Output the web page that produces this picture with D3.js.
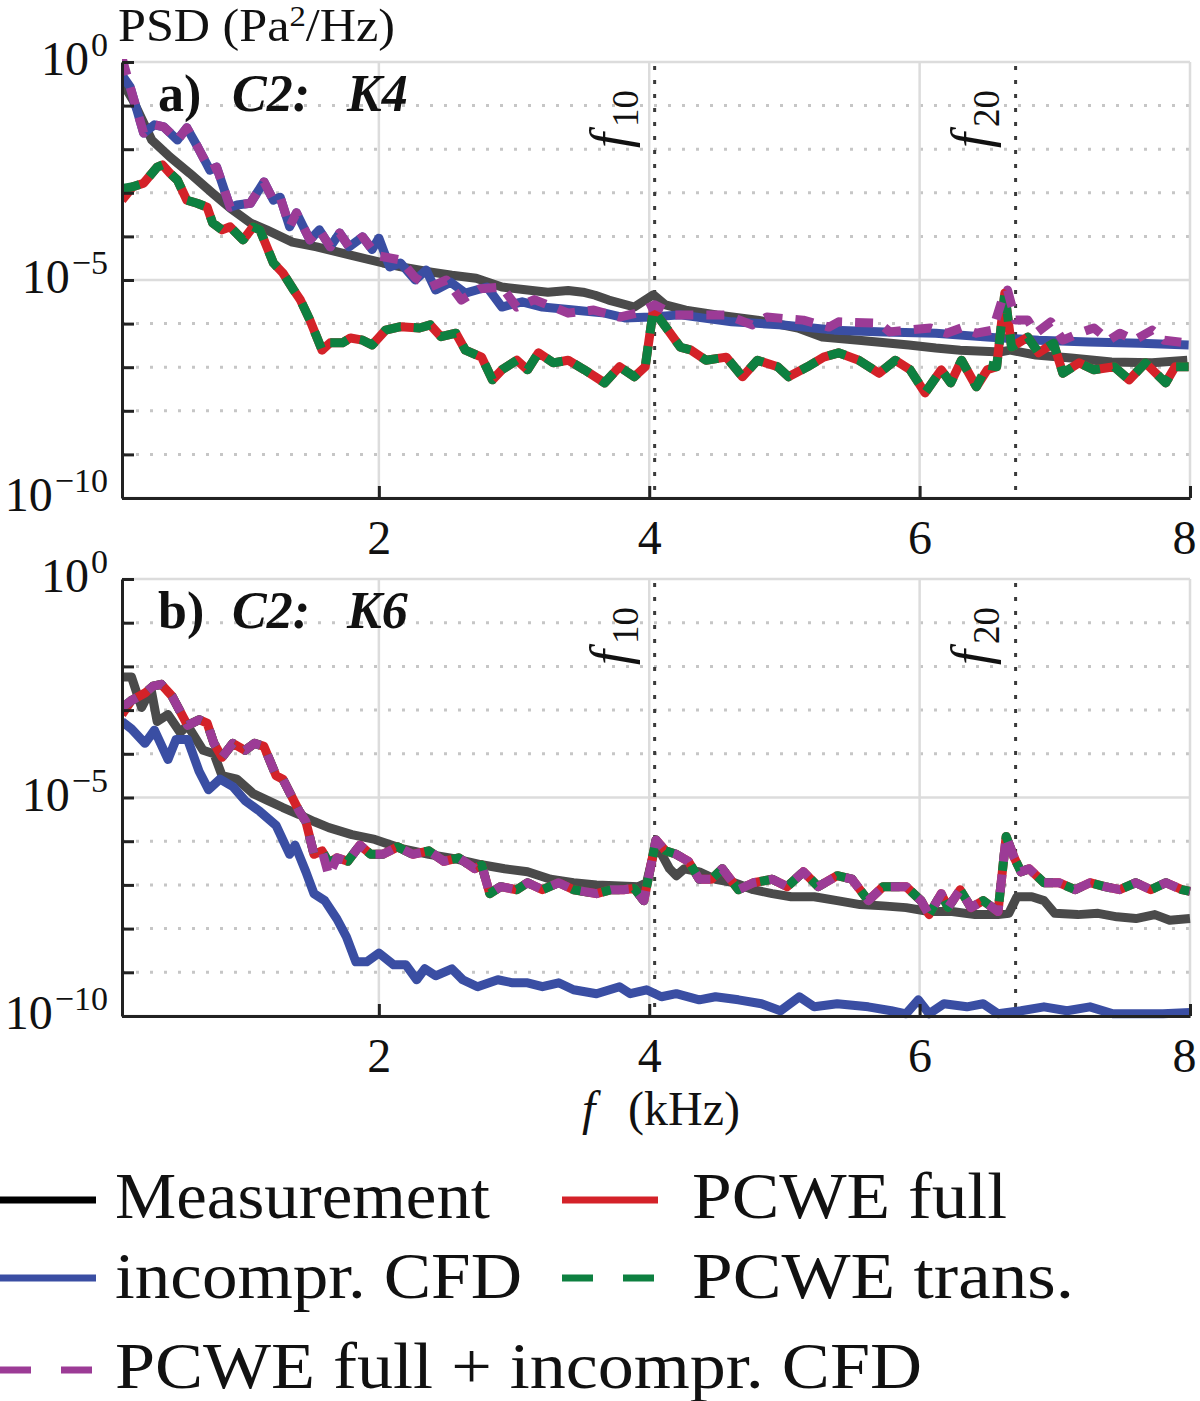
<!DOCTYPE html>
<html>
<head>
<meta charset="utf-8">
<script src="https://cdn.jsdelivr.net/npm/d3@7"></script>
<style>
  body { margin: 0; background: #fff; }
  svg { display: block; }
  text { font-family: "Liberation Serif", "Times New Roman", serif; fill: #111; }
</style>
</head>
<body>
<svg id="chart" width="1200" height="1401"></svg>
<script>
// Values are [frequency in kHz, log10(PSD in Pa^2/Hz)].

// panel a) C2: K4
const measA = [[0.10,-0.46],[0.18,-0.87],[0.32,-1.79],[0.455,-2.18],[0.60,-2.55],[0.77,-3.01],[0.90,-3.35],[1.05,-3.69],[1.17,-3.85],[1.36,-4.13],[1.54,-4.24],[1.79,-4.43],[2.03,-4.61],[2.20,-4.72],[2.39,-4.82],[2.54,-4.89],[2.72,-4.96],[2.91,-5.16],[3.10,-5.23],[3.25,-5.28],[3.40,-5.24],[3.51,-5.28],[3.60,-5.35],[3.70,-5.46],[3.89,-5.62],[4.03,-5.34],[4.12,-5.57],[4.27,-5.69],[4.50,-5.80],[4.80,-5.92],[5.10,-6.10],[5.28,-6.31],[5.55,-6.38],[5.92,-6.49],[6.12,-6.56],[6.30,-6.61],[6.60,-6.65],[6.67,-6.61],[6.86,-6.72],[7.12,-6.79],[7.42,-6.88],[7.72,-6.90],[7.98,-6.84]];

const cfdA = [[0.10,-0.30],[0.16,-0.57],[0.26,-1.63],[0.34,-1.44],[0.41,-1.49],[0.51,-1.79],[0.58,-1.51],[0.66,-1.95],[0.75,-2.48],[0.80,-2.41],[0.90,-3.33],[0.95,-3.28],[1.05,-3.24],[1.15,-2.75],[1.22,-3.17],[1.27,-3.10],[1.34,-3.78],[1.39,-3.46],[1.49,-4.08],[1.56,-3.85],[1.64,-4.24],[1.71,-3.92],[1.78,-4.24],[1.88,-4.01],[1.95,-4.30],[2.00,-4.04],[2.08,-4.70],[2.16,-4.61],[2.27,-5.00],[2.35,-4.77],[2.42,-5.23],[2.53,-5.05],[2.64,-5.30],[2.80,-5.16],[2.91,-5.62],[3.06,-5.50],[3.21,-5.62],[3.44,-5.69],[3.67,-5.76],[3.82,-5.87],[4.01,-5.85],[4.23,-5.80],[4.61,-5.96],[4.99,-6.03],[5.37,-6.15],[5.74,-6.19],[6.12,-6.22],[6.50,-6.31],[6.88,-6.38],[7.25,-6.42],[7.63,-6.45],[7.99,-6.49]];

const fullA = [[0.10,-3.17],[0.18,-2.86],[0.26,-2.78],[0.36,-2.41],[0.40,-2.36],[0.455,-2.55],[0.51,-2.71],[0.58,-3.17],[0.655,-3.24],[0.73,-3.33],[0.77,-3.69],[0.84,-3.85],[0.90,-3.78],[0.995,-4.08],[1.07,-3.78],[1.12,-3.85],[1.22,-4.61],[1.29,-4.84],[1.37,-5.23],[1.42,-5.46],[1.49,-5.92],[1.58,-6.61],[1.64,-6.44],[1.73,-6.44],[1.79,-6.33],[1.88,-6.38],[1.95,-6.49],[2.05,-6.15],[2.16,-6.07],[2.30,-6.10],[2.38,-6.03],[2.46,-6.30],[2.57,-6.22],[2.64,-6.61],[2.76,-6.77],[2.84,-7.29],[2.91,-7.06],[3.02,-6.84],[3.10,-7.06],[3.18,-6.67],[3.29,-6.90],[3.40,-6.84],[3.52,-7.06],[3.67,-7.36],[3.78,-6.99],[3.89,-7.22],[3.97,-6.99],[4.03,-5.69],[4.12,-6.07],[4.23,-6.54],[4.31,-6.61],[4.42,-6.84],[4.57,-6.77],[4.69,-7.22],[4.80,-6.84],[4.95,-6.99],[5.03,-7.22],[5.17,-6.99],[5.29,-6.77],[5.40,-6.67],[5.55,-6.84],[5.70,-7.14],[5.82,-6.84],[5.93,-7.06],[6.04,-7.59],[6.16,-7.06],[6.23,-7.36],[6.31,-6.84],[6.42,-7.45],[6.50,-7.06],[6.57,-6.99],[6.63,-5.30],[6.68,-6.54],[6.80,-6.31],[6.88,-6.67],[6.99,-6.45],[7.06,-7.14],[7.18,-6.90],[7.29,-7.06],[7.44,-6.99],[7.55,-7.29],[7.67,-6.90],[7.82,-7.36],[7.89,-6.99],[7.99,-6.99]];

const transA = [[0.10,-2.90],[0.18,-2.86],[0.26,-2.78],[0.36,-2.41],[0.40,-2.36],[0.455,-2.55],[0.51,-2.71],[0.58,-3.17],[0.655,-3.24],[0.73,-3.33],[0.77,-3.69],[0.84,-3.85],[0.90,-3.78],[0.995,-4.08],[1.07,-3.78],[1.12,-3.85],[1.22,-4.61],[1.29,-4.84],[1.37,-5.23],[1.42,-5.46],[1.49,-5.92],[1.58,-6.61],[1.64,-6.44],[1.73,-6.44],[1.79,-6.33],[1.88,-6.38],[1.95,-6.49],[2.05,-6.15],[2.16,-6.07],[2.30,-6.10],[2.38,-6.03],[2.46,-6.30],[2.57,-6.22],[2.64,-6.61],[2.76,-6.77],[2.84,-7.29],[2.91,-7.06],[3.02,-6.84],[3.10,-7.06],[3.18,-6.67],[3.29,-6.90],[3.40,-6.84],[3.52,-7.06],[3.67,-7.36],[3.78,-6.99],[3.89,-7.22],[3.97,-6.99],[4.03,-5.69],[4.12,-6.07],[4.23,-6.54],[4.31,-6.61],[4.42,-6.84],[4.57,-6.77],[4.69,-7.22],[4.80,-6.84],[4.95,-6.99],[5.03,-7.22],[5.17,-6.99],[5.29,-6.77],[5.40,-6.67],[5.55,-6.84],[5.70,-7.14],[5.82,-6.84],[5.93,-7.06],[6.04,-7.59],[6.16,-7.06],[6.23,-7.36],[6.31,-6.84],[6.42,-7.45],[6.50,-6.95],[6.57,-6.99],[6.63,-5.30],[6.68,-6.54],[6.80,-6.31],[6.88,-6.67],[6.99,-6.45],[7.06,-7.14],[7.18,-6.90],[7.29,-7.06],[7.44,-6.99],[7.55,-7.29],[7.67,-6.90],[7.82,-7.36],[7.89,-6.99],[7.99,-6.99]];

const comboA = [[0.10,0.10],[0.16,-0.57],[0.26,-1.63],[0.34,-1.44],[0.41,-1.49],[0.51,-1.79],[0.58,-1.51],[0.66,-1.95],[0.75,-2.48],[0.80,-2.41],[0.90,-3.33],[0.95,-3.28],[1.05,-3.24],[1.15,-2.75],[1.22,-3.17],[1.27,-3.10],[1.34,-3.78],[1.39,-3.46],[1.49,-4.08],[1.56,-3.85],[1.64,-4.24],[1.71,-3.92],[1.78,-4.24],[1.88,-4.01],[1.95,-4.30],[2.00,-4.45],[2.16,-4.54],[2.27,-4.95],[2.38,-5.16],[2.50,-5.00],[2.61,-5.46],[2.75,-5.20],[2.91,-5.16],[3.02,-5.62],[3.15,-5.45],[3.29,-5.62],[3.40,-5.76],[3.59,-5.69],[3.78,-5.85],[3.92,-5.75],[4.04,-5.57],[4.19,-5.80],[4.42,-5.80],[4.57,-5.80],[4.76,-6.03],[4.87,-5.85],[5.14,-5.92],[5.33,-6.08],[5.40,-5.96],[5.70,-5.99],[5.78,-6.19],[6.08,-6.10],[6.20,-6.22],[6.31,-6.10],[6.42,-6.22],[6.54,-6.15],[6.61,-5.46],[6.65,-5.23],[6.71,-5.92],[6.80,-5.92],[6.86,-6.22],[6.97,-5.96],[7.06,-6.38],[7.18,-6.22],[7.29,-6.10],[7.40,-6.38],[7.48,-6.22],[7.59,-6.38],[7.72,-6.15],[7.81,-6.38],[7.99,-6.45]];

// panel b) C2: K6
const measB = [[0.10,-2.24],[0.17,-2.24],[0.245,-2.94],[0.315,-2.52],[0.36,-3.26],[0.44,-3.10],[0.53,-3.51],[0.585,-3.35],[0.70,-3.92],[0.78,-4.00],[0.84,-4.50],[0.95,-4.58],[1.07,-4.91],[1.18,-5.07],[1.29,-5.23],[1.41,-5.39],[1.52,-5.55],[1.63,-5.69],[1.80,-5.85],[1.97,-5.96],[2.17,-6.17],[2.37,-6.30],[2.59,-6.42],[2.76,-6.54],[2.93,-6.63],[3.10,-6.70],[3.27,-6.87],[3.44,-6.95],[3.61,-7.00],[3.92,-7.04],[3.98,-6.95],[4.05,-6.06],[4.15,-6.63],[4.20,-6.79],[4.26,-6.63],[4.37,-6.70],[4.49,-6.87],[4.63,-6.95],[4.77,-7.11],[4.91,-7.20],[5.05,-7.27],[5.22,-7.27],[5.39,-7.36],[5.56,-7.45],[5.73,-7.48],[5.90,-7.52],[6.07,-7.61],[6.24,-7.61],[6.41,-7.68],[6.58,-7.68],[6.66,-7.65],[6.72,-7.27],[6.83,-7.27],[6.92,-7.36],[7.00,-7.65],[7.17,-7.68],[7.32,-7.65],[7.46,-7.73],[7.60,-7.77],[7.74,-7.68],[7.85,-7.81],[8.00,-7.77]];

const cfdB = [[0.10,-3.26],[0.17,-3.43],[0.27,-3.76],[0.34,-3.46],[0.44,-4.13],[0.50,-3.67],[0.585,-3.67],[0.67,-4.40],[0.74,-4.82],[0.825,-4.58],[0.92,-4.75],[1.01,-5.07],[1.12,-5.32],[1.24,-5.64],[1.34,-6.30],[1.38,-6.09],[1.46,-6.70],[1.52,-7.20],[1.60,-7.36],[1.69,-7.78],[1.76,-8.19],[1.83,-8.76],[1.91,-8.76],[2.00,-8.56],[2.11,-8.83],[2.20,-8.83],[2.28,-9.17],[2.34,-8.92],[2.42,-9.08],[2.54,-8.92],[2.62,-9.17],[2.73,-9.33],[2.88,-9.17],[2.99,-9.24],[3.10,-9.24],[3.21,-9.33],[3.33,-9.24],[3.44,-9.40],[3.61,-9.49],[3.78,-9.33],[3.86,-9.49],[3.98,-9.40],[4.09,-9.56],[4.20,-9.49],[4.37,-9.63],[4.49,-9.56],[4.66,-9.63],[4.83,-9.72],[4.97,-9.88],[5.11,-9.56],[5.22,-9.79],[5.39,-9.72],[5.62,-9.79],[5.79,-9.88],[5.90,-9.95],[5.99,-9.63],[6.07,-9.95],[6.18,-9.72],[6.35,-9.79],[6.47,-9.72],[6.58,-9.95],[6.75,-9.88],[6.92,-9.79],[7.09,-9.88],[7.26,-9.79],[7.43,-9.95],[7.60,-9.95],[7.80,-9.95],[8.00,-9.92]];

const fullB = [[0.10,-3.10],[0.17,-2.78],[0.27,-2.61],[0.33,-2.45],[0.39,-2.41],[0.47,-2.68],[0.53,-3.03],[0.585,-3.35],[0.67,-3.22],[0.73,-3.30],[0.78,-3.76],[0.84,-4.08],[0.92,-3.76],[1.01,-3.92],[1.08,-3.76],[1.15,-3.83],[1.24,-4.50],[1.29,-4.58],[1.41,-5.31],[1.46,-5.55],[1.52,-6.30],[1.58,-6.22],[1.63,-6.50],[1.69,-6.38],[1.77,-6.46],[1.86,-6.09],[1.94,-6.30],[2.03,-6.30],[2.14,-6.13],[2.25,-6.30],[2.37,-6.22],[2.48,-6.46],[2.59,-6.38],[2.71,-6.63],[2.76,-6.54],[2.82,-7.20],[2.90,-7.04],[3.02,-7.11],[3.10,-6.95],[3.21,-7.11],[3.33,-6.95],[3.44,-7.11],[3.61,-7.20],[3.72,-7.11],[3.81,-7.11],[3.89,-7.08],[3.96,-7.36],[4.05,-5.97],[4.12,-6.22],[4.20,-6.30],[4.29,-6.46],[4.37,-6.87],[4.46,-6.87],[4.54,-6.63],[4.66,-7.11],[4.77,-6.95],[4.91,-6.87],[5.02,-7.04],[5.14,-6.70],[5.25,-7.04],[5.39,-6.79],[5.50,-6.87],[5.62,-7.36],[5.73,-7.04],[5.90,-7.04],[6.01,-7.36],[6.07,-7.68],[6.16,-7.20],[6.21,-7.52],[6.30,-7.11],[6.38,-7.52],[6.47,-7.36],[6.58,-7.61],[6.64,-5.89],[6.70,-6.38],[6.75,-6.70],[6.81,-6.63],[6.92,-6.95],[7.03,-6.95],[7.15,-7.11],[7.26,-6.95],[7.37,-7.04],[7.48,-7.11],[7.60,-6.95],[7.71,-7.11],[7.82,-6.95],[7.94,-7.11],[8.00,-7.15]];

const transB = [[0.10,-2.94],[0.17,-2.78],[0.27,-2.61],[0.33,-2.45],[0.39,-2.41],[0.47,-2.68],[0.53,-3.03],[0.585,-3.35],[0.67,-3.22],[0.73,-3.30],[0.78,-3.76],[0.84,-4.08],[0.92,-3.76],[1.01,-3.92],[1.08,-3.76],[1.15,-3.83],[1.24,-4.50],[1.29,-4.58],[1.41,-5.31],[1.46,-5.55],[1.52,-6.30],[1.58,-6.22],[1.63,-6.50],[1.69,-6.38],[1.77,-6.46],[1.86,-6.09],[1.94,-6.30],[2.03,-6.30],[2.14,-6.13],[2.25,-6.30],[2.37,-6.22],[2.48,-6.46],[2.59,-6.38],[2.71,-6.63],[2.76,-6.54],[2.82,-7.20],[2.90,-7.04],[3.02,-7.11],[3.10,-6.95],[3.21,-7.11],[3.33,-6.95],[3.44,-7.11],[3.61,-7.20],[3.72,-7.11],[3.81,-7.11],[3.89,-7.08],[3.96,-7.36],[4.05,-5.97],[4.12,-6.22],[4.20,-6.30],[4.29,-6.46],[4.37,-6.87],[4.46,-6.87],[4.54,-6.63],[4.66,-7.11],[4.77,-6.95],[4.91,-6.87],[5.02,-7.04],[5.14,-6.70],[5.25,-7.04],[5.39,-6.79],[5.50,-6.87],[5.62,-7.36],[5.73,-7.04],[5.90,-7.04],[6.01,-7.36],[6.07,-7.68],[6.16,-7.20],[6.21,-7.52],[6.30,-7.11],[6.38,-7.52],[6.47,-7.36],[6.58,-7.61],[6.64,-5.89],[6.70,-6.38],[6.75,-6.70],[6.81,-6.63],[6.92,-6.95],[7.03,-6.95],[7.15,-7.11],[7.26,-6.95],[7.37,-7.04],[7.48,-7.11],[7.60,-6.95],[7.71,-7.11],[7.82,-6.95],[7.94,-7.11],[8.00,-7.15]];

const comboB = [[0.10,-2.94],[0.17,-2.78],[0.27,-2.61],[0.33,-2.45],[0.39,-2.41],[0.47,-2.68],[0.53,-3.03],[0.585,-3.35],[0.67,-3.22],[0.73,-3.30],[0.78,-3.76],[0.84,-4.08],[0.92,-3.76],[1.01,-3.92],[1.08,-3.76],[1.15,-3.83],[1.24,-4.50],[1.29,-4.58],[1.41,-5.31],[1.46,-5.55],[1.52,-6.30],[1.58,-6.22],[1.63,-6.79],[1.69,-6.38],[1.77,-6.46],[1.86,-6.09],[1.94,-6.30],[2.03,-6.30],[2.14,-6.13],[2.25,-6.30],[2.37,-6.22],[2.48,-6.46],[2.59,-6.38],[2.71,-6.63],[2.76,-6.54],[2.82,-7.20],[2.90,-7.04],[3.02,-7.11],[3.10,-6.95],[3.21,-7.11],[3.33,-6.95],[3.44,-7.11],[3.61,-7.20],[3.72,-7.11],[3.81,-7.11],[3.89,-7.08],[3.96,-7.36],[4.05,-5.97],[4.12,-6.22],[4.20,-6.30],[4.29,-6.46],[4.37,-6.87],[4.46,-6.87],[4.54,-6.63],[4.66,-7.11],[4.77,-6.95],[4.91,-6.87],[5.02,-7.04],[5.14,-6.70],[5.25,-7.04],[5.39,-6.79],[5.50,-6.87],[5.62,-7.36],[5.73,-7.04],[5.90,-7.04],[6.01,-7.36],[6.07,-7.68],[6.16,-7.20],[6.21,-7.52],[6.30,-7.11],[6.38,-7.52],[6.47,-7.36],[6.58,-7.61],[6.64,-5.89],[6.70,-6.38],[6.75,-6.70],[6.81,-6.63],[6.92,-6.95],[7.03,-6.95],[7.15,-7.11],[7.26,-6.95],[7.37,-7.04],[7.48,-7.11],[7.60,-6.95],[7.71,-7.11],[7.82,-6.95],[7.94,-7.11],[8.00,-7.15]];

const SERIES_NAMES = ["Measurement", "incompr. CFD", "PCWE full", "PCWE trans.", "PCWE full + incompr. CFD"];
const HARMONICS = [{f: 4.04, sub: "10"}, {f: 6.71, sub: "20"}];
const X_TICKS = [2, 4, 6, 8];
const DECADES = [1, 1e-1, 1e-2, 1e-3, 1e-4, 1e-5, 1e-6, 1e-7, 1e-8, 1e-9, 1e-10];
const MAJOR = [{v: 1, exp: "0"}, {v: 1e-5, exp: "\u22125"}, {v: 1e-10, exp: "\u221210"}];

const COLORS = ["#4a4a4a", "#3a4ea3", "#d42229", "#0d8040", "#9c3b96"];
const DASHED = [false, false, false, true, true];

const panels = [
  {top: 62, bottom: 498, tag: "a)", cfg: "C2:", mic: "K4", data: [measA, cfdA, fullA, transA, comboA]},
  {top: 579, bottom: 1016, tag: "b)", cfg: "C2:", mic: "K6", data: [measB, cfdB, fullB, transB, comboB]}
];

const LEFT = 122, RIGHT = 1190;
const svg = d3.select("#chart");
const defs = svg.append("defs");
const x = d3.scaleLinear().domain([0.1, 8]).range([LEFT, RIGHT]);

function drawPanel(p, i) {
  const y = d3.scaleLog().domain([1e-10, 1]).range([p.bottom, p.top]);
  const g = svg.append("g");

  defs.append("clipPath").attr("id", "clip" + i)
    .append("rect")
    .attr("x", LEFT).attr("y", p.top - 3)
    .attr("width", RIGHT - LEFT + 2).attr("height", p.bottom - p.top + 6);

  // minor grid (dotted)
  g.append("g").selectAll("line")
    .data(DECADES.filter((d) => !MAJOR.some((m) => m.v === d)))
    .join("line")
    .attr("x1", LEFT).attr("x2", RIGHT)
    .attr("y1", (d) => y(d)).attr("y2", (d) => y(d))
    .attr("stroke", "#c6c6c6").attr("stroke-width", 3)
    .attr("stroke-dasharray", "3,11");

  // major grid
  g.append("g").selectAll("line")
    .data(MAJOR)
    .join("line")
    .attr("x1", LEFT).attr("x2", RIGHT)
    .attr("y1", (d) => y(d.v)).attr("y2", (d) => y(d.v))
    .attr("stroke", "#dcdcdc").attr("stroke-width", 2.5);
  g.append("g").selectAll("line")
    .data(X_TICKS)
    .join("line")
    .attr("x1", (d) => x(d)).attr("x2", (d) => x(d))
    .attr("y1", p.top).attr("y2", p.bottom)
    .attr("stroke", "#dcdcdc").attr("stroke-width", 2.5);

  // harmonic markers
  g.append("g").selectAll("line")
    .data(HARMONICS)
    .join("line")
    .attr("x1", (d) => x(d.f)).attr("x2", (d) => x(d.f))
    .attr("y1", p.top + 4).attr("y2", p.bottom)
    .attr("stroke", "#3a3a3a").attr("stroke-width", 3)
    .attr("stroke-dasharray", "4,10");

  const hl = g.append("g").selectAll("text")
    .data(HARMONICS)
    .join("text")
    .attr("transform", (d) => `translate(${x(d.f) - 27},${p.top + 86}) rotate(-90)`);
  hl.append("tspan").attr("font-style", "italic").attr("font-size", 54).text("f");
  hl.append("tspan").attr("font-size", 37).attr("dx", 6).attr("dy", 10).text((d) => d.sub);

  // series
  const line = d3.line()
    .x((d) => x(d[0]))
    .y((d) => y(Math.pow(10, d[1])));
  const lg = g.append("g").attr("clip-path", `url(#clip${i})`);
  p.data.forEach((s, k) => {
    lg.append("path")
      .datum(s)
      .attr("d", line)
      .attr("fill", "none")
      .attr("stroke", COLORS[k])
      .attr("stroke-width", 9)
      .attr("stroke-linejoin", "round")
      .attr("stroke-dasharray", DASHED[k] ? "18,13" : null);
  });

  // axes
  const yAxis = d3.axisLeft(y).tickValues(DECADES).tickSize(-12).tickSizeOuter(0).tickFormat("");
  g.append("g")
    .attr("transform", `translate(${LEFT},0)`)
    .call(yAxis)
    .call((a) => a.selectAll("path, line").attr("stroke", "#222").attr("stroke-width", 3));

  const xAxis = d3.axisBottom(x).tickValues(X_TICKS).tickSize(-12).tickSizeOuter(0).tickPadding(22);
  g.append("g")
    .attr("transform", `translate(0,${p.bottom})`)
    .call(xAxis)
    .call((a) => a.selectAll("path, line").attr("stroke", "#222").attr("stroke-width", 3))
    .call((a) => a.selectAll("text")
      .attr("font-family", "Liberation Serif, serif")
      .attr("font-size", 48).attr("fill", "#111"))
    .call((a) => a.selectAll(".tick").filter((d) => d === 8).select("text").attr("dx", -6));

  // y tick labels 10^n
  const yl = g.append("g").selectAll("text")
    .data(MAJOR)
    .join("text")
    .attr("x", 108)
    .attr("y", (d) => y(d.v) + 13)
    .attr("text-anchor", "end");
  yl.append("tspan").attr("font-size", 48).text("10");
  yl.append("tspan").attr("font-size", 34).attr("dx", 2).attr("dy", -19).text((d) => d.exp);

  // panel label
  const pl = g.append("text").attr("x", 158).attr("y", p.top + 49).attr("font-weight", "bold").attr("font-size", 52);
  pl.append("tspan").text(p.tag);
  pl.append("tspan").attr("x", 232).attr("font-style", "italic").text(p.cfg);
  pl.append("tspan").attr("x", 347).attr("font-style", "italic").text(p.mic);
}

panels.forEach(drawPanel);

// y label
const yt = svg.append("text").attr("x", 118).attr("y", 41).attr("font-size", 46)
  .attr("textLength", 277).attr("lengthAdjust", "spacingAndGlyphs");
yt.append("tspan").text("PSD (Pa");
yt.append("tspan").attr("font-size", 30).attr("dy", -15).text("2");
yt.append("tspan").attr("dy", 15).text("/Hz)");

// x label
const xt = svg.append("text").attr("x", 582).attr("y", 1125).attr("font-size", 48);
xt.append("tspan").attr("font-style", "italic").text("f");
xt.append("tspan").attr("x", 628).text("(kHz)");

// legend
const LEGEND_POS = [
  {lx: 0, tx: 115, ly: 1200, ty: 1218, w: 375},
  {lx: 0, tx: 115, ly: 1278, ty: 1298, w: 407},
  {lx: 562, tx: 692, ly: 1200, ty: 1218, w: 315},
  {lx: 562, tx: 692, ly: 1278, ty: 1298, w: 382},
  {lx: 0, tx: 115, ly: 1370, ty: 1388, w: 807}
];
const legend = svg.append("g");
SERIES_NAMES.forEach((name, k) => {
  const pos = LEGEND_POS[k];
  legend.append("line")
    .attr("x1", pos.lx).attr("x2", pos.lx + 96)
    .attr("y1", pos.ly).attr("y2", pos.ly)
    .attr("stroke", k === 0 ? "#000" : COLORS[k])
    .attr("stroke-width", 7)
    .attr("stroke-dasharray", DASHED[k] ? "31,30" : null);
  legend.append("text")
    .attr("x", pos.tx).attr("y", pos.ty)
    .attr("font-size", 66)
    .attr("textLength", pos.w)
    .attr("lengthAdjust", "spacingAndGlyphs")
    .text(name);
});
</script>
</body>
</html>
